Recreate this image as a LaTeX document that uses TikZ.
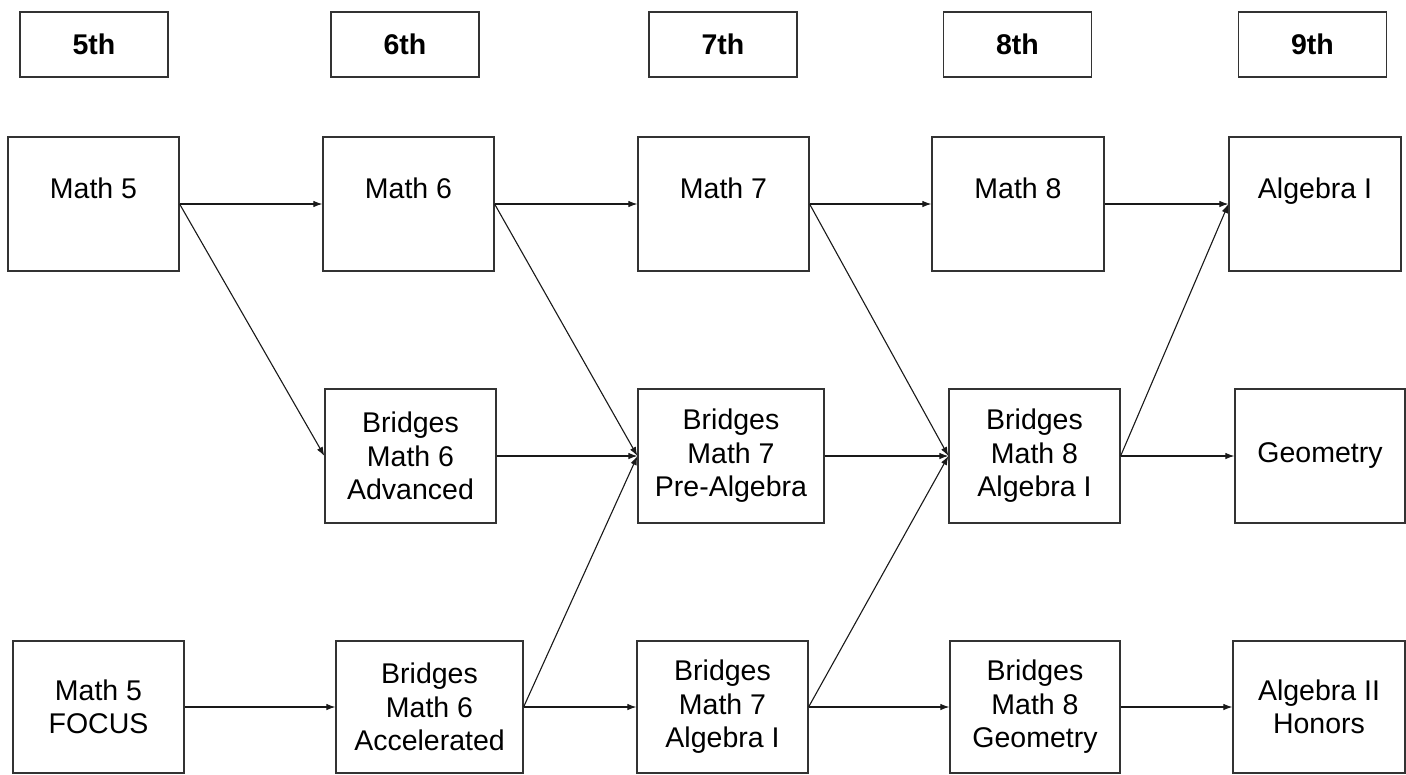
\documentclass[tikz,border=0pt]{standalone}
\usepackage{fontspec}
\setmainfont{Liberation Sans}
\usepackage{tikz}
\usetikzlibrary{arrows.meta}

\tikzset{
  grade/.style={rectangle, draw=black!80, line width=1.2pt, minimum width=148pt, minimum height=65pt, inner sep=0pt, font=\bfseries\fontsize{28.5}{33}\selectfont},
  course/.style={rectangle, draw=black!80, line width=1.2pt, minimum height=134pt, inner sep=0pt, align=center, font=\fontsize{28.5}{33.5}\selectfont},
  topcourse/.style={course, text height=61pt, text depth=73pt},
  link/.style={-{Latex[length=9pt,width=6.5pt]}, line width=1.1pt, black!90}
}

\begin{document}
\begin{tikzpicture}[x=1pt, y=-1pt]
      \useasboundingbox (0,0) rectangle (1406,774);
      % grade headers
      \node [grade]  (g5) at (  94.0, 44.5) {5th};
      \node [grade]  (g6) at ( 405.0, 44.5) {6th};
      \node [grade]  (g7) at ( 723.0, 44.5) {7th};
      \node [grade]  (g8) at (1017.5, 44.5) {8th};
      \node [grade]  (g9) at (1312.5, 44.5) {9th};
      % top row
      \node [topcourse, minimum width=171pt]  (m5) at (  93.5, 204) {Math 5};
      \node [topcourse, minimum width=171pt]  (m6) at ( 408.5, 204) {Math 6};
      \node [topcourse, minimum width=171pt]  (m7) at ( 723.5, 204) {Math 7};
      \node [topcourse, minimum width=172pt]  (m8) at (1018.0, 204) {Math 8};
      \node [topcourse, minimum width=172pt]  (a1) at (1315.0, 204) {Algebra I};
      % middle row
      \node [course, minimum width=171pt]  (b6adv) at ( 410.5, 456) {Bridges\\Math 6\\Advanced};
      \node [course, minimum width=186pt]  (b7pre) at ( 731.0, 456) {Bridges\\Math 7\\Pre-Algebra};
      \node [course, minimum width=171pt]  (b8alg) at (1034.5, 456) {Bridges\\Math 8\\Algebra I};
      \node [course, minimum width=170pt]  (geo)   at (1320.0, 456) {Geometry};
      % bottom row
      \node [course, minimum width=171pt, minimum height=132pt]  (m5f)   at (  98.5, 707) {Math 5\\FOCUS};
      \node [course, minimum width=187pt, minimum height=132pt]  (b6acc) at ( 429.5, 707) {Bridges\\Math 6\\Accelerated};
      \node [course, minimum width=171pt, minimum height=132pt]  (b7alg) at ( 722.5, 707) {Bridges\\Math 7\\Algebra I};
      \node [course, minimum width=170pt, minimum height=132pt]  (b8geo) at (1035.0, 707) {Bridges\\Math 8\\Geometry};
      \node [course, minimum width=172pt, minimum height=132pt]  (a2h)   at (1319.0, 707) {Algebra II\\Honors};
      % pathways
      \draw [link] (m5.east) -- (m6.west);
      \draw [link] (m6.east) -- (m7.west);
      \draw [link] (m7.east) -- (m8.west);
      \draw [link] (m8.east) -- (a1.west);
      \draw [link] (m5.east) -- (b6adv.west);
      \draw [link] (m6.east) -- (b7pre.west);
      \draw [link] (m7.east) -- (b8alg.west);
      \draw [link] (b8alg.east) -- (a1.west);
      \draw [link] (b6adv.east) -- (b7pre.west);
      \draw [link] (b7pre.east) -- (b8alg.west);
      \draw [link] (b8alg.east) -- (geo.west);
      \draw [link] (m5f.east) -- (b6acc.west);
      \draw [link] (b6acc.east) -- (b7alg.west);
      \draw [link] (b7alg.east) -- (b8geo.west);
      \draw [link] (b8geo.east) -- (a2h.west);
      \draw [link] (b6acc.east) -- (b7pre.west);
      \draw [link] (b7alg.east) -- (b8alg.west);
\end{tikzpicture}
\end{document}
